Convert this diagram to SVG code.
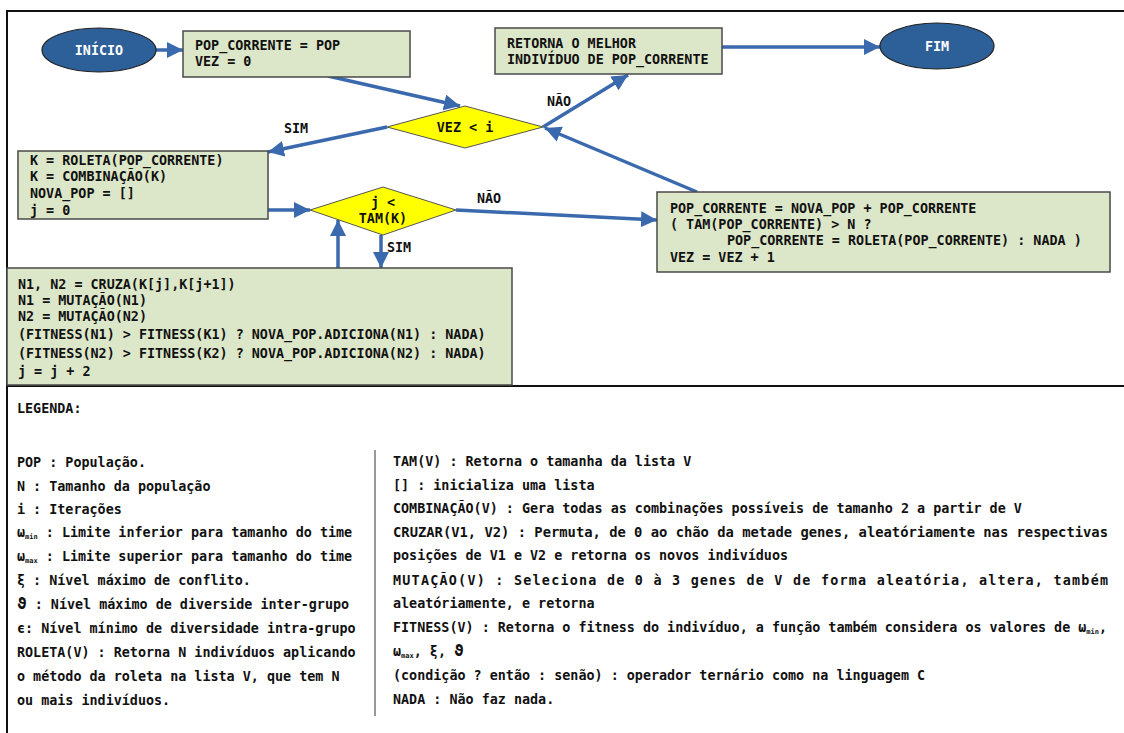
<svg xmlns="http://www.w3.org/2000/svg" width="1124" height="733" viewBox="0 0 1124 733">
<style>
.t{font-family:"DejaVu Sans Mono","Liberation Mono",monospace;font-weight:bold;font-size:13.4px;fill:#111}
.w{fill:#fff;text-anchor:middle}
.c{text-anchor:middle}
.box{fill:#dce6c8;stroke:#4a4a4a;stroke-width:1.5}
.ell{fill:#2d5f98;stroke:#222;stroke-width:1.2}
.dia{fill:#ffff00;stroke:#555;stroke-width:1}
.con{stroke:#3a69ad;stroke-width:3.5;fill:none}
.lg{font-family:"DejaVu Sans Mono","Liberation Mono",monospace;font-weight:bold;font-size:13.4px;fill:#111}
.lr{font-family:"DejaVu Sans Mono","Liberation Mono",monospace;font-weight:bold;font-size:13.4px;fill:#111}
.sub{font-size:7px}
.big{font-size:16px}
</style>
<defs>
<marker id="ah" markerUnits="userSpaceOnUse" markerWidth="18" markerHeight="18" refX="16" refY="8" orient="auto">
<path d="M0,0 L16,8 L0,16 z" fill="#3a69ad"/>
</marker>
</defs>
<rect width="1124" height="733" fill="#fff"/>
<g id="frame" stroke="#111" fill="none">
<line x1="6" y1="11" x2="1124" y2="11" stroke-width="2"/>
<line x1="7" y1="11" x2="7" y2="733" stroke-width="2"/>
<line x1="6" y1="386" x2="1124" y2="386" stroke-width="2"/>
<line x1="375" y1="450" x2="375" y2="716" stroke="#555" stroke-width="1.2"/>
</g>
<g id="connectors">
<line class="con" x1="156" y1="50" x2="183" y2="50" marker-end="url(#ah)"/>
<line class="con" x1="328" y1="76" x2="460" y2="106" marker-end="url(#ah)"/>
<line class="con" x1="387" y1="127" x2="268" y2="152" marker-end="url(#ah)"/>
<line class="con" x1="543" y1="127" x2="628" y2="75" marker-end="url(#ah)"/>
<line class="con" x1="722" y1="47" x2="880" y2="47" marker-end="url(#ah)"/>
<line class="con" x1="268" y1="210" x2="310" y2="210" marker-end="url(#ah)"/>
<line class="con" x1="456" y1="210" x2="657" y2="220" marker-end="url(#ah)"/>
<line class="con" x1="381" y1="235" x2="381" y2="268" marker-end="url(#ah)"/>
<line class="con" x1="338" y1="268" x2="338" y2="220" marker-end="url(#ah)"/>
<line class="con" x1="697" y1="192" x2="545" y2="128" marker-end="url(#ah)"/>
<text class="t" x="284" y="133">SIM</text>
<text class="t" x="547" y="106">NÃO</text>
<text class="t" x="477" y="203">NÃO</text>
<text class="t" x="387" y="252">SIM</text>
</g>
<g id="inicio">
<ellipse class="ell" cx="99" cy="50" rx="57" ry="22"/>
<text class="t w" x="99" y="55">INÍCIO</text>
</g>
<g id="init">
<rect class="box" x="183" y="31" width="227" height="46"/>
<text class="t" x="195" y="50">POP_CORRENTE = POP</text>
<text class="t" x="195" y="66">VEZ = 0</text>
</g>
<g id="retorna">
<rect class="box" x="495" y="28" width="227" height="46"/>
<text class="t" x="507" y="48">RETORNA O MELHOR</text>
<text class="t" x="507" y="64">INDIVÍDUO DE POP_CORRENTE</text>
</g>
<g id="fim">
<ellipse class="ell" cx="937" cy="46" rx="57" ry="23"/>
<text class="t w" x="937" y="51">FIM</text>
</g>
<g id="vez">
<polygon class="dia" points="387,127 465,106 543,127 465,148"/>
<text class="t c" x="465" y="132">VEZ &lt; i</text>
</g>
<g id="roleta">
<rect class="box" x="18" y="151" width="250" height="68"/>
<text class="t" x="30" y="165">K = ROLETA(POP_CORRENTE)</text>
<text class="t" x="30" y="181">K = COMBINAÇÃO(K)</text>
<text class="t" x="30" y="198">NOVA_POP = []</text>
<text class="t" x="30" y="215">j = 0</text>
</g>
<g id="tam">
<polygon class="dia" points="310,210 383,187 456,210 383,235"/>
<text class="t c" x="383" y="207">j &lt;</text>
<text class="t c" x="383" y="223">TAM(K)</text>
</g>
<g id="atualiza">
<rect class="box" x="657" y="192" width="453" height="80"/>
<text class="t" x="670" y="213">POP_CORRENTE = NOVA_POP + POP_CORRENTE</text>
<text class="t" x="670" y="229">( TAM(POP_CORRENTE) &gt; N ?</text>
<text class="t" x="727" y="245">POP_CORRENTE = ROLETA(POP_CORRENTE) : NADA )</text>
<text class="t" x="670" y="262">VEZ = VEZ + 1</text>
</g>
<g id="cruza">
<rect class="box" x="7" y="268" width="505" height="117"/>
<text class="t" x="18" y="289">N1, N2 = CRUZA(K[j],K[j+1])</text>
<text class="t" x="18" y="305">N1 = MUTAÇÃO(N1)</text>
<text class="t" x="18" y="321">N2 = MUTAÇÃO(N2)</text>
<text class="t" x="18" y="339">(FITNESS(N1) &gt; FITNESS(K1) ? NOVA_POP.ADICIONA(N1) : NADA)</text>
<text class="t" x="18" y="358">(FITNESS(N2) &gt; FITNESS(K2) ? NOVA_POP.ADICIONA(N2) : NADA)</text>
<text class="t" x="18" y="376">j = j + 2</text>
</g>
<g id="legenda">
<text class="lg" x="17" y="413">LEGENDA:</text>
<text class="lg" x="17" y="467">POP : População.</text>
<text class="lg" x="17" y="491">N : Tamanho da população</text>
<text class="lg" x="17" y="514">i : Iterações</text>
<text class="lg" x="17" y="537">ω<tspan class="sub" dy="2">min</tspan><tspan dy="-2"> : Limite inferior para tamanho do time</tspan></text>
<text class="lg" x="17" y="561">ω<tspan class="sub" dy="2">max</tspan><tspan dy="-2"> : Limite superior para tamanho do time</tspan></text>
<text class="lg" x="17" y="585">ξ : Nível máximo de conflito.</text>
<text class="lg" x="17" y="609"><tspan class="big">ϑ</tspan> : Nível máximo de diverside inter-grupo</text>
<text class="lg" x="17" y="633">ϵ: Nível mínimo de diversidade intra-grupo</text>
<text class="lg" x="17" y="657">ROLETA(V) : Retorna N indivíduos aplicando</text>
<text class="lg" x="17" y="681">o método da roleta na lista V, que tem N</text>
<text class="lg" x="17" y="705">ou mais indivíduos.</text>
<text class="lr" x="393" y="466">TAM(V) : Retorna o tamanha da lista V</text>
<text class="lr" x="393" y="490">[] : inicializa uma lista</text>
<text class="lr" x="393" y="513">COMBINAÇÃO(V) : Gera todas as combinações possíveis de tamanho 2 a partir de V</text>
<text class="lr" x="393" y="537" textLength="715" lengthAdjust="spacingAndGlyphs">CRUZAR(V1, V2) : Permuta, de 0 ao chão da metade  genes, aleatóriamente nas respectivas</text>
<text class="lr" x="393" y="560">posições de V1 e V2 e retorna os novos indivíduos</text>
<text class="lr" x="393" y="585" textLength="715" lengthAdjust="spacing">MUTAÇÃO(V) : Seleciona de 0 à 3 genes de V de forma aleatória, altera, também</text>
<text class="lr" x="393" y="608">aleatóriamente, e retorna</text>
<text class="lr" x="393" y="632">FITNESS(V) : Retorna o fitness do indivíduo, a função também considera os valores de ω<tspan class="sub" dy="2">min</tspan><tspan dy="-2">,</tspan></text>
<text class="lr" x="393" y="656">ω<tspan class="sub" dy="2">max</tspan><tspan dy="-2">, ξ, </tspan><tspan class="big">ϑ</tspan></text>
<text class="lr" x="393" y="680">(condição ? então : senão) : operador ternário como na linguagem C</text>
<text class="lr" x="393" y="704">NADA : Não faz nada.</text>
</g>
</svg>
